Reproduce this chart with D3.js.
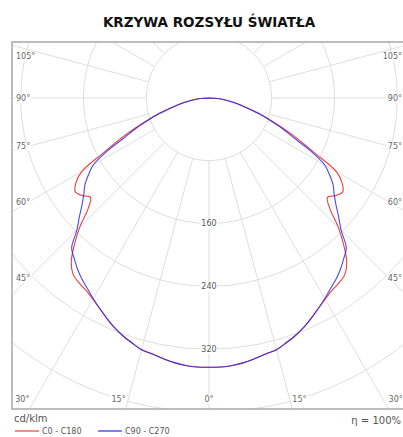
<!DOCTYPE html>
<html>
<head>
<meta charset="utf-8">
<script src="https://cdn.jsdelivr.net/npm/d3@7"></script>
<style>
body { margin: 0; background: #fff; }
text { font-family: "DejaVu Sans", Verdana, sans-serif; }
</style>
</head>
<body>
<div id="chart"></div>
<script>
//Chart data (angle from nadir in degrees, intensity in cd/klm)
var angles = [0, 2.5, 5, 7.5, 10, 12.5, 15, 17.5, 20, 22.5, 25, 27.5, 30, 32.5, 35, 37.5,
    40, 42.5, 45, 47.5, 50, 52.5, 55, 57.5, 60, 62.5, 65, 67.5, 70, 72.5, 75, 77.5, 80, 82.5, 85, 87.5, 90];
var c0c180 = [343, 343, 342, 340, 337, 334, 332, 327, 322, 316, 309, 302, 296, 291, 288, 284,
    273, 254, 233, 209, 197, 204, 208, 201, 187, 152, 127, 104, 84, 68, 52, 41, 31, 22, 15, 7, 0];
var c90c270 = [343, 343, 342, 340, 337, 334, 332, 327, 322, 316, 309, 302, 295, 288, 282, 275,
    267, 259, 238, 224, 211, 201, 193, 182, 170, 146, 118, 100, 82, 67, 52, 41, 31, 22, 15, 7, 0];
var seriesNames = ["C0 - C180", "C90 - C270"];
var gridValues = [80, 160, 240, 320, 400];
var radiusLabels = [160, 240, 320];
var gridAngles = [0, 15, 30, 45, 60, 75, 90, 105, 120, 135, 150, 165, 180];
var sideLabels = [45, 60, 75, 90, 105];
var bottomLabels = [0, 15, 30];

//Chart set up
var svgWidth = 403;
var svgHeight = 437;
var box = {left: 12, top: 42, right: 406, bottom: 409};
var cx = 209, cy = 98;
var rad = Math.PI / 180;

var rScale = d3.scaleLinear().domain([0, 80]).range([0, 62.8]);

var svg = d3.select("#chart")
    .append("svg")
    .attr("width", svgWidth)
    .attr("height", svgHeight);

//Title
svg.append("text")
    .attr("x", 209)
    .attr("y", 27)
    .attr("text-anchor", "middle")
    .attr("font-size", 13.5)
    .attr("font-weight", "bold")
    .attr("fill", "#111")
    .text("KRZYWA ROZSYŁU ŚWIATŁA");

svg.append("clipPath")
    .attr("id", "clip")
    .append("rect")
    .attr("x", box.left)
    .attr("y", box.top)
    .attr("width", box.right - box.left)
    .attr("height", box.bottom - box.top);

var plot = svg.append("g").attr("clip-path", "url(#clip)");
var polar = plot.append("g").attr("transform", `translate(${cx},${cy})`);

//Grid circles
polar.selectAll("circle.grid")
    .data(gridValues)
    .enter()
    .append("circle")
    .attr("r", d => rScale(d))
    .attr("fill", "none")
    .attr("stroke", "#dedede")
    .attr("stroke-width", 1);

//Radial grid lines, starting at the first circle
var spokes = [];
gridAngles.forEach(function (a) {
    spokes.push(a);
    if (a > 0 && a < 180) spokes.push(-a);
});
polar.selectAll("line.spoke")
    .data(spokes)
    .enter()
    .append("line")
    .attr("x1", d => rScale(80) * Math.sin(d * rad))
    .attr("y1", d => rScale(80) * Math.cos(d * rad))
    .attr("x2", d => 700 * Math.sin(d * rad))
    .attr("y2", d => 700 * Math.cos(d * rad))
    .attr("stroke", "#dedede")
    .attr("stroke-width", 1);

//helper: text with white box behind it
function label(parent, x, y, txt, anchor, size, color) {
    var g = parent.append("g");
    var t = g.append("text")
        .attr("x", x)
        .attr("y", y)
        .attr("dy", "0.35em")
        .attr("text-anchor", anchor)
        .attr("font-size", size)
        .attr("fill", color)
        .text(txt);
    var bb = t.node().getBBox();
    g.insert("rect", "text")
        .attr("x", bb.x - 1)
        .attr("y", bb.y)
        .attr("width", bb.width + 2)
        .attr("height", bb.height)
        .attr("fill", "#fff");
}

//Curves
var radial = d3.lineRadial()
    .angle(d => d.a)
    .radius(d => rScale(d.v))
    .curve(d3.curveCatmullRom);

function fullCurve(values) {
    var pts = [];
    for (var i = angles.length - 1; i >= 0; i--) pts.push({a: Math.PI + angles[i] * rad, v: values[i]});
    for (var j = 1; j < angles.length; j++) pts.push({a: Math.PI - angles[j] * rad, v: values[j]});
    return pts;
}

polar.append("path")
    .attr("d", radial(fullCurve(c0c180)))
    .attr("fill", "none")
    .attr("stroke", "#f03c3c")
    .attr("stroke-width", 1.1);

polar.append("path")
    .attr("d", radial(fullCurve(c90c270)))
    .attr("fill", "none")
    .attr("stroke", "#2a2af0")
    .attr("stroke-opacity", 0.85)
    .attr("stroke-width", 1.1);

//Angle labels on the sides
sideLabels.forEach(function (a) {
    var y = cy + 180 / Math.tan(a * rad);
    if (a === 90) y = cy;
    y = Math.max(y, 56);
    label(plot, box.left + 4, y, a + "°", "start", 8, "#666");
    label(plot, box.right - 4, y, a + "°", "end", 8, "#666");
});

//Angle labels at the bottom
bottomLabels.forEach(function (a) {
    var dx = (box.bottom - cy) * Math.tan(a * rad);
    if (a === 0) {
        label(plot, cx, 399, "0°", "middle", 8, "#666");
    } else {
        label(plot, cx - dx, 399, a + "°", "end", 8, "#666");
        label(plot, cx + dx, 399, a + "°", "start", 8, "#666");
    }
});

//Intensity labels on the 0 line
radiusLabels.forEach(function (v) {
    label(plot, cx, cy + rScale(v), v, "middle", 8, "#555");
});

//Frame
svg.append("rect")
    .attr("x", box.left)
    .attr("y", box.top)
    .attr("width", box.right - box.left)
    .attr("height", box.bottom - box.top)
    .attr("fill", "none")
    .attr("stroke", "#a8a8a8")
    .attr("stroke-width", 1.5);

//Legend
svg.append("text")
    .attr("x", 14)
    .attr("y", 422)
    .attr("font-size", 10)
    .attr("fill", "#555")
    .text("cd/klm");

svg.append("text")
    .attr("x", 401)
    .attr("y", 424)
    .attr("text-anchor", "end")
    .attr("font-size", 10)
    .attr("fill", "#555")
    .text("η = 100%");

var legendColors = ["#f03c3c", "#2a2af0"];
var legendX = [15, 98];
seriesNames.forEach(function (name, i) {
    svg.append("line")
        .attr("x1", legendX[i])
        .attr("x2", legendX[i] + 24)
        .attr("y1", 431)
        .attr("y2", 431)
        .attr("stroke", legendColors[i])
        .attr("stroke-width", 1.2);
    svg.append("text")
        .attr("x", legendX[i] + 27)
        .attr("y", 434)
        .attr("font-size", 8)
        .attr("fill", "#555")
        .text(name);
});
</script>
</body>
</html>
